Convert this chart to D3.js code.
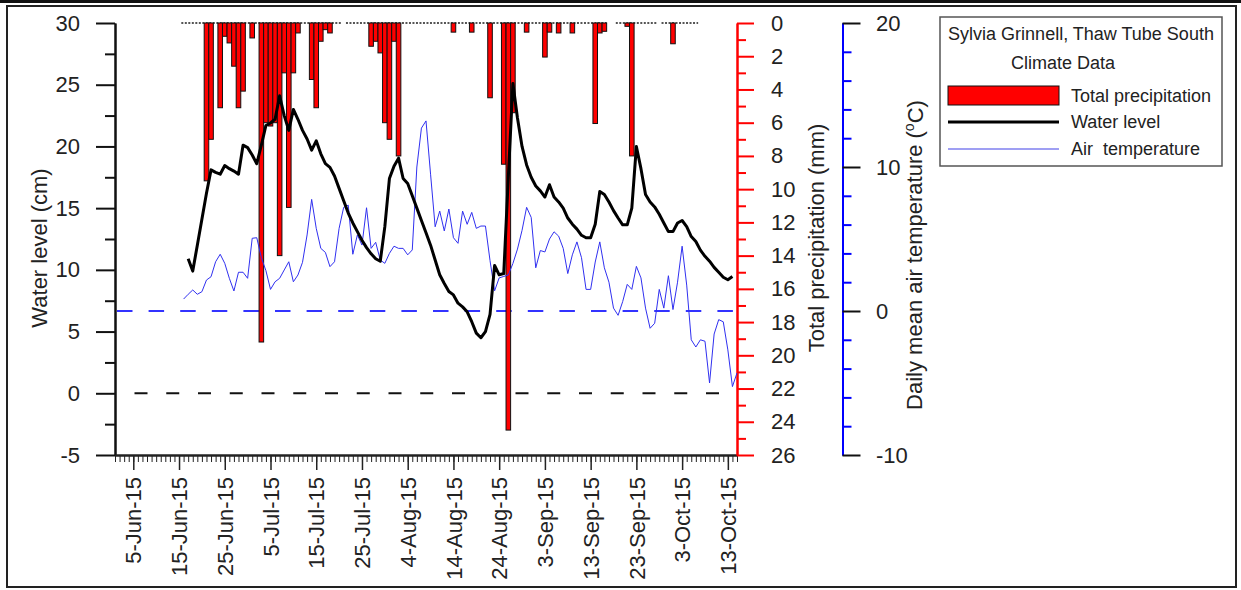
<!DOCTYPE html>
<html>
<head>
<meta charset="utf-8">
<script src="https://cdn.jsdelivr.net/npm/d3@7"></script>
<style>
  body { margin: 0; background: #fff; }
  text { font-family: "Liberation Sans", Arial, sans-serif; fill: #222; }
</style>
</head>
<body>
<div id="chart"></div>
<script>
// ---- Data ----------------------------------------------------------
// x axis tick labels
var xTickLabels = ["5-Jun-15", "15-Jun-15", "25-Jun-15", "5-Jul-15", "15-Jul-15", "25-Jul-15",
  "4-Aug-15", "14-Aug-15", "24-Aug-15", "3-Sep-15", "13-Sep-15", "23-Sep-15", "3-Oct-15", "13-Oct-15"];

// Total precipitation (mm), days with rain only (every other recorded day = 0)
var precipDates = ["2015-06-21", "2015-06-22", "2015-06-24", "2015-06-25", "2015-06-26", "2015-06-27",
  "2015-06-28", "2015-06-29", "2015-07-01", "2015-07-03", "2015-07-04", "2015-07-05", "2015-07-06",
  "2015-07-07", "2015-07-08", "2015-07-09", "2015-07-10", "2015-07-11", "2015-07-14", "2015-07-15",
  "2015-07-16", "2015-07-17", "2015-07-18", "2015-07-27", "2015-07-28", "2015-07-29", "2015-07-30",
  "2015-07-31", "2015-08-01", "2015-08-02", "2015-08-14", "2015-08-18", "2015-08-22", "2015-08-25",
  "2015-08-26", "2015-08-27", "2015-08-30", "2015-09-03", "2015-09-04", "2015-09-06", "2015-09-09",
  "2015-09-14", "2015-09-15", "2015-09-16", "2015-09-21", "2015-09-22", "2015-10-01"];
var precipValues = [9.5, 7.0, 5.1, 0.8, 1.2, 2.6,
  5.1, 4.1, 0.9, 19.2, 6.0, 6.2, 6.0,
  14.0, 3.0, 11.1, 3.0, 0.6, 3.4, 5.1,
  1.1, 0.4, 0.6, 1.4, 1.1, 1.8, 6.0,
  7.0, 1.1, 8.0, 0.55, 0.55, 4.5, 8.5,
  24.5, 5.4, 0.55, 2.05, 0.55, 0.6, 0.6,
  6.05, 0.6, 0.5, 0.2, 8.0, 1.25];
var precipFirst = "2015-06-16";
var precipLast = "2015-10-06";
var precipMissing = ["2015-07-21", "2015-09-17", "2015-09-18", "2015-09-28"];

// Water level (cm), one value a day from 17-Jun-15
var waterStart = "2015-06-17";
var waterLevel = [10.9, 9.9, 12.0, 14.1, 16.2, 18.1, 17.9, 17.75, 18.45, 18.2,
  18.0, 17.75, 20.1, 19.9, 19.3, 18.6, 20.1, 21.7, 21.9, 22.2,
  24.1, 22.5, 21.3, 23.0, 22.2, 21.3, 20.6, 19.7, 20.45, 19.4,
  18.6, 18.3, 17.6, 16.6, 15.6, 14.6, 13.8, 13.1, 12.4, 11.8,
  11.3, 10.9, 10.7, 13.5, 17.4, 18.4, 19.05, 17.4, 17.0, 16.0,
  15.0, 14.0, 13.0, 12.0, 10.8, 9.6, 8.9, 8.25, 7.97, 7.3,
  7.0, 6.6, 5.8, 4.87, 4.5, 5.0, 6.4, 10.35, 9.6, 9.7,
  17.5, 25.1, 22.3, 20.0, 18.5, 17.5, 16.8, 16.4, 15.9, 16.9,
  15.9, 15.5, 15.0, 14.2, 13.7, 13.3, 12.8, 12.6, 12.6, 13.7,
  16.35, 16.1, 15.5, 14.8, 14.2, 13.65, 13.65, 15.0, 20.0, 18.2,
  16.1, 15.5, 15.1, 14.5, 13.8, 13.1, 13.1, 13.8, 14.0, 13.5,
  12.7, 12.3, 11.6, 11.1, 10.7, 10.2, 9.8, 9.4, 9.2, 9.46];

// Daily mean air temperature (oC), one value a day from 16-Jun-15
var tempStart = "2015-06-16";
var airTemp = [0.83, 1.16, 1.46, 1.16, 1.34, 2.15, 2.38, 3.42, 3.94, 3.31,
  2.27, 1.39, 2.69, 2.69, 2.27, 5.05, 5.09, 3.7, 2.8, 1.5,
  2.03, 2.27, 2.85, 3.42, 2.03, 2.5, 3.38, 5.28, 7.75, 5.74,
  4.35, 4.07, 3.08, 3.42, 5.74, 7.2, 7.35, 3.94, 5.28, 4.58,
  7.17, 4.35, 4.77, 3.54, 3.31, 4.0, 4.5, 4.35, 4.35, 3.9,
  4.24, 10.0, 12.7, 13.2, 9.5, 5.85, 6.94, 5.56, 7.08, 5.09,
  4.7, 6.94, 6.02, 6.85, 5.74, 5.9, 5.9, 3.5, 1.4, 2.3,
  2.4, 2.5, 3.3, 4.3, 5.6, 7.2, 6.5, 3.0, 4.2, 4.1,
  5.0, 5.5, 5.2, 4.35, 2.6, 3.9, 4.8, 3.7, 1.5, 1.5,
  3.4, 4.8, 3.0, 2.0, 0.2, -0.3, 0.65, 1.85, 1.5, 3.1,
  2.3, 0.2, -1.2, -0.85, 1.5, 0.2, 2.45, 0.1, 2.0, 4.5,
  1.8, -2.0, -2.5, -2.0, -2.1, -5.0, -1.6, -0.6, -0.75, -2.7,
  -5.25, -4.3];

// ---- Setup ---------------------------------------------------------
var svgWidth = 1241;
var svgHeight = 590;
var plot = { left: 115, right: 737, top: 23, bottom: 455 };
var fontSize = 22;
var legendFont = 18;

var parseDate = d3.timeParse("%Y-%m-%d");
var parseLabel = d3.timeParse("%d-%b-%y");
var plainNumber = function(d) { return String(d); };   // keeps "-5" with a hyphen

var svg = d3.select("#chart")
  .append("svg")
  .attr("width", svgWidth)
  .attr("height", svgHeight);

// outer frame
svg.append("line")
  .attr("x1", 0).attr("x2", svgWidth)
  .attr("y1", 1.5).attr("y2", 1.5)
  .attr("stroke", "#111")
  .attr("stroke-width", 3);
svg.append("rect")
  .attr("x", 7).attr("y", 6)
  .attr("width", 1229).attr("height", 581)
  .attr("fill", "none")
  .attr("stroke", "#222")
  .attr("stroke-width", 2);

// ---- Build series ----------------------------------------------------
var precipLookup = {};
precipDates.forEach(function(d, i) { precipLookup[d] = precipValues[i]; });

var fmtKey = d3.timeFormat("%Y-%m-%d");
var precipDays = d3.timeDay.range(parseDate(precipFirst), d3.timeDay.offset(parseDate(precipLast), 1))
  .map(function(day) {
    var key = fmtKey(day);
    var missing = precipMissing.indexOf(key) >= 0;
    return { date: day, value: missing ? null : (precipLookup[key] || 0) };
  });

var waterData = waterLevel.map(function(v, i) {
  return { date: d3.timeDay.offset(parseDate(waterStart), i), value: v };
});
var tempData = airTemp.map(function(v, i) {
  return { date: d3.timeDay.offset(parseDate(tempStart), i), value: v };
});

// ---- Scales ----------------------------------------------------------
var xScale = d3.scaleTime()
  .domain([new Date(2015, 5, 1), new Date(2015, 9, 15)])
  .range([plot.left, plot.right]);

var yWater = d3.scaleLinear().domain([-5, 30]).range([plot.bottom, plot.top]);
var yPrecip = d3.scaleLinear().domain([0, 26]).range([plot.top, plot.bottom]);
var yTemp = d3.scaleLinear().domain([-10, 20]).range([plot.bottom, plot.top]);

var dayWidth = xScale(new Date(2015, 5, 2)) - xScale(new Date(2015, 5, 1));

// ---- Axes ------------------------------------------------------------
function styleAxis(g, color, width) {
  g.attr("color", color).attr("font-size", fontSize);
  g.selectAll("line").attr("stroke-width", width);
  g.select(".domain").attr("stroke-width", 2);
}

// left: water level
svg.append("g")
  .attr("transform", `translate(${plot.left}, 0)`)
  .call(d3.axisLeft(yWater).tickValues(d3.range(-2.5, 30, 5)).tickSize(10).tickSizeOuter(0).tickFormat(""))
  .call(styleAxis, "#111", 2);
svg.append("g")
  .attr("transform", `translate(${plot.left}, 0)`)
  .call(d3.axisLeft(yWater).tickValues(d3.range(-5, 31, 5)).tickSize(19).tickSizeOuter(0).tickPadding(16)
    .tickFormat(plainNumber))
  .call(styleAxis, "#111", 2);

// bottom: dates
var xTickDates = xTickLabels.map(parseLabel);
svg.append("g")
  .attr("transform", `translate(0, ${plot.bottom})`)
  .call(d3.axisBottom(xScale).ticks(d3.timeDay.every(1)).tickSize(7).tickSizeOuter(0).tickFormat(""))
  .call(styleAxis, "#222", 1);
var xMajor = svg.append("g")
  .attr("transform", `translate(0, ${plot.bottom})`)
  .call(d3.axisBottom(xScale).tickValues(xTickDates).tickSize(15).tickSizeOuter(0)
    .tickFormat(function(d, i) { return xTickLabels[i]; }))
  .call(styleAxis, "#222", 1.5);
xMajor.selectAll("text")
  .attr("transform", "rotate(-90)")
  .attr("x", -22)
  .attr("y", 0)
  .attr("dy", "0.35em")
  .attr("text-anchor", "end");

// right 1: precipitation (red)
svg.append("g")
  .attr("transform", `translate(${plot.right}, 0)`)
  .call(d3.axisRight(yPrecip).tickValues(d3.range(1, 26, 2)).tickSize(9).tickSizeOuter(0).tickFormat(""))
  .call(styleAxis, "#ff0000", 2);
svg.append("g")
  .attr("transform", `translate(${plot.right}, 0)`)
  .call(d3.axisRight(yPrecip).tickValues(d3.range(0, 27, 2)).tickSize(17).tickSizeOuter(0).tickPadding(17)
    .tickFormat(plainNumber))
  .call(styleAxis, "#ff0000", 2);

// right 2: air temperature (blue, black major ticks)
var tempAxisX = 842.5;
svg.append("g")
  .attr("transform", `translate(${tempAxisX}, 0)`)
  .call(d3.axisRight(yTemp).tickValues([-8, -6, -4, -2, 2, 4, 6, 8, 12, 14, 16, 18]).tickSize(9).tickSizeOuter(0).tickFormat(""))
  .call(styleAxis, "#0000ff", 2);
var tempMajor = svg.append("g")
  .attr("transform", `translate(${tempAxisX}, 0)`)
  .call(d3.axisRight(yTemp).tickValues([-10, 0, 10, 20]).tickSize(18).tickSizeOuter(0).tickPadding(15.5)
    .tickFormat(plainNumber))
  .call(styleAxis, "#0000ff", 2);
tempMajor.selectAll(".tick line").attr("stroke", "#111");

// axis titles
svg.append("text")
  .attr("transform", "translate(47, 248) rotate(-90)")
  .attr("text-anchor", "middle")
  .attr("font-size", fontSize)
  .text("Water level (cm)");

svg.append("text")
  .attr("transform", "translate(824, 238) rotate(-90)")
  .attr("text-anchor", "middle")
  .attr("font-size", fontSize)
  .text("Total precipitation (mm)");

var tempTitle = svg.append("text")
  .attr("transform", "translate(922, 255) rotate(-90)")
  .attr("text-anchor", "middle")
  .attr("font-size", fontSize);
tempTitle.append("tspan").text("Daily mean air temperature (");
tempTitle.append("tspan").attr("font-size", 14).attr("dy", "-0.55em").text("o");
tempTitle.append("tspan").attr("dy", "0.38em").text("C)");

// ---- Reference lines -------------------------------------------------
svg.append("line")
  .attr("x1", plot.left + 10).attr("x2", plot.right)
  .attr("y1", yWater(0)).attr("y2", yWater(0))
  .attr("stroke", "#111")
  .attr("stroke-width", 2)
  .attr("stroke-dasharray", "13,18.75")
  .attr("stroke-dashoffset", -9.5);

svg.append("line")
  .attr("x1", plot.left).attr("x2", plot.right)
  .attr("y1", yTemp(0)).attr("y2", yTemp(0))
  .attr("stroke", "#3333ff")
  .attr("stroke-width", 2)
  .attr("stroke-dasharray", "15.5,16.1")
  .attr("stroke-dashoffset", -2);

// ---- Precipitation bars (hanging from the top) -----------------------
// dotted zero line where precipitation was recorded
var runs = [];
precipDays.forEach(function(d, i) {
  if (d.value === null) return;
  var prev = precipDays[i - 1];
  if (!prev || prev.value === null) runs.push({ start: d.date, end: d.date });
  else runs[runs.length - 1].end = d.date;
});
svg.selectAll(".precipZero")
  .data(runs)
  .enter()
  .append("line")
  .attr("class", "precipZero")
  .attr("x1", d => xScale(d.start) - dayWidth / 2)
  .attr("x2", d => xScale(d.end) + dayWidth / 2)
  .attr("y1", yPrecip(0)).attr("y2", yPrecip(0))
  .attr("stroke", "#555")
  .attr("stroke-width", 2)
  .attr("stroke-dasharray", "2,1.5");

svg.selectAll(".precipBar")
  .data(precipDays.filter(d => d.value > 0))
  .enter()
  .append("rect")
  .attr("class", "precipBar")
  .attr("x", d => xScale(d.date) - dayWidth / 2)
  .attr("y", yPrecip(0))
  .attr("width", dayWidth)
  .attr("height", d => yPrecip(d.value) - yPrecip(0))
  .attr("fill", "#ff0000")
  .attr("stroke", "#111")
  .attr("stroke-width", 1);

// ---- Lines -----------------------------------------------------------
var tempLine = d3.line()
  .x(d => xScale(d.date))
  .y(d => yTemp(d.value));
svg.append("path")
  .datum(tempData)
  .attr("d", tempLine)
  .attr("fill", "none")
  .attr("stroke", "#3030f0")
  .attr("stroke-width", 1);

var waterLine = d3.line()
  .x(d => xScale(d.date))
  .y(d => yWater(d.value));
svg.append("path")
  .datum(waterData)
  .attr("d", waterLine)
  .attr("fill", "none")
  .attr("stroke", "#000")
  .attr("stroke-width", 3)
  .attr("stroke-linejoin", "round");

// ---- Legend ----------------------------------------------------------
var legend = svg.append("g");
legend.append("rect")
  .attr("x", 940).attr("y", 17)
  .attr("width", 282).attr("height", 149)
  .attr("fill", "#fff")
  .attr("stroke", "#555")
  .attr("stroke-width", 1.5);
legend.append("text")
  .attr("x", 1081).attr("y", 40)
  .attr("text-anchor", "middle")
  .attr("font-size", legendFont)
  .text("Sylvia Grinnell, Thaw Tube South");
legend.append("text")
  .attr("x", 1063).attr("y", 69)
  .attr("text-anchor", "middle")
  .attr("font-size", legendFont)
  .text("Climate Data");

var legendItems = [
  { label: "Total precipitation", y: 96, type: "bar" },
  { label: "Water level", y: 122, type: "water" },
  { label: "Air  temperature", y: 149, type: "temp" }
];
legendItems.forEach(function(item) {
  if (item.type === "bar") {
    legend.append("rect")
      .attr("x", 948).attr("y", item.y - 10)
      .attr("width", 111).attr("height", 19)
      .attr("fill", "#ff0000")
      .attr("stroke", "#111")
      .attr("stroke-width", 1);
  } else {
    legend.append("line")
      .attr("x1", 948).attr("x2", 1059)
      .attr("y1", item.y).attr("y2", item.y)
      .attr("stroke", item.type === "water" ? "#000" : "#7f7fef")
      .attr("stroke-width", item.type === "water" ? 3 : 1.5);
  }
  legend.append("text")
    .attr("x", 1071).attr("y", item.y + 6)
    .attr("font-size", legendFont)
    .style("white-space", "pre")
    .text(item.label);
});
</script>
</body>
</html>
